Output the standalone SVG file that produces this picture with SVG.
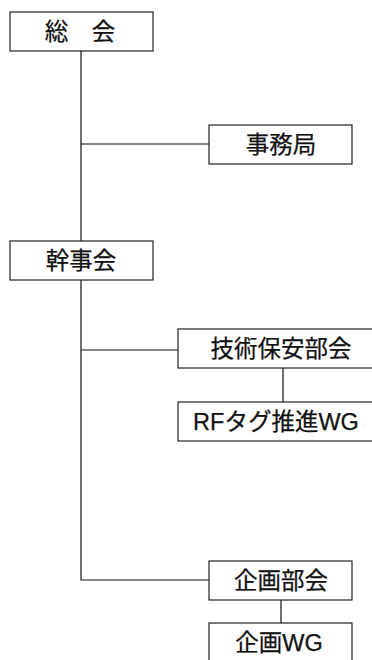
<svg xmlns="http://www.w3.org/2000/svg" width="372" height="660" viewBox="0 0 372 660">
<style>
.box{fill:#fff;stroke:#222;stroke-width:1.2}
.lbl{font-family:"Liberation Sans","Noto Sans CJK JP",sans-serif;font-size:23.5px;fill:#111;text-anchor:middle;dominant-baseline:central;stroke:#111;stroke-width:0.25}
.con{fill:none;stroke:#111;stroke-width:1.2}
</style>
<rect width="372" height="660" fill="#fff"/>
<g id="connectors">
<path class="con" d="M81 51V241"/>
<path class="con" d="M81 144H209"/>
<path class="con" d="M81 280V580H209"/>
<path class="con" d="M81 350H178"/>
<path class="con" d="M283 368V402"/>
<path class="con" d="M281 600V623"/>
</g>
<g id="soukai"><rect class="box" x="10" y="12" width="143" height="39"/><text class="lbl" x="80" y="31.5">総　会</text></g>
<g id="jimukyoku"><rect class="box" x="209" y="125" width="143" height="39"/><text class="lbl" x="281" y="144.5">事務局</text></g>
<g id="kanjikai"><rect class="box" x="10" y="241" width="143" height="39"/><text class="lbl" x="81" y="260.5">幹事会</text></g>
<g id="gijutsu"><rect class="box" x="178" y="329" width="210" height="39"/><text class="lbl" x="281" y="348.5">技術保安部会</text></g>
<g id="rftag"><rect class="box" x="178" y="402" width="210" height="39"/><text class="lbl" x="276" y="421.5">RFタグ推進WG</text></g>
<g id="kikakubukai"><rect class="box" x="209" y="561" width="143" height="39"/><text class="lbl" x="281" y="580.5">企画部会</text></g>
<g id="kikakuwg"><rect class="box" x="209" y="623" width="143" height="45"/><text class="lbl" x="279" y="642.5">企画WG</text></g>
</svg>
